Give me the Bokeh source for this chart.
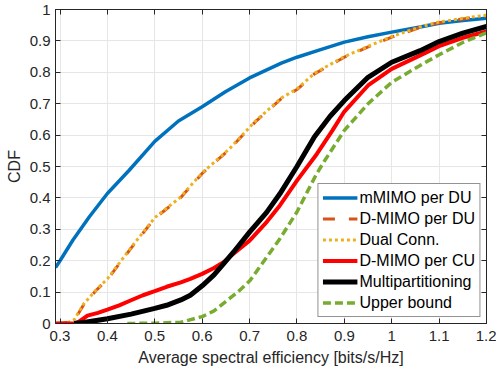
from bokeh.plotting import figure
from bokeh.embed import file_html
from bokeh.resources import INLINE
from bokeh.models import LinearAxis, FixedTicker, NumeralTickFormatter, Range1d, Legend, LegendItem

# ---------------- data ----------------
x_tick_vals = [0.3, 0.4, 0.5, 0.6, 0.7, 0.8, 0.9, 1.0, 1.1, 1.2]
y_tick_vals = [0, 0.1, 0.2, 0.3, 0.4, 0.5, 0.6, 0.7, 0.8, 0.9, 1.0]

mmimo_x = [0.2905, 0.3, 0.327, 0.362, 0.4, 0.446, 0.5, 0.55, 0.6, 0.649, 0.7, 0.767, 0.8, 0.85, 0.9, 0.95, 1.0, 1.06, 1.1, 1.15, 1.2]
mmimo_y = [0.178, 0.2, 0.265, 0.34, 0.414, 0.488, 0.58, 0.645, 0.69, 0.738, 0.782, 0.829, 0.848, 0.872, 0.896, 0.913, 0.928, 0.944, 0.956, 0.965, 0.972]

dmimo_du_x = [0.2905, 0.32, 0.33, 0.35, 0.376, 0.4, 0.45, 0.5, 0.554, 0.6, 0.656, 0.712, 0.767, 0.8, 0.837, 0.9, 0.949, 1.0, 1.059, 1.1, 1.15, 1.2]
dmimo_du_y = [0.0, 0.004, 0.01, 0.06, 0.105, 0.14, 0.24, 0.335, 0.4, 0.478, 0.552, 0.642, 0.716, 0.745, 0.795, 0.848, 0.88, 0.912, 0.942, 0.958, 0.97, 0.98]

dual_x = [0.2905, 0.32, 0.33, 0.35, 0.376, 0.4, 0.45, 0.5, 0.554, 0.6, 0.656, 0.712, 0.767, 0.8, 0.837, 0.9, 0.949, 1.0, 1.059, 1.1, 1.15, 1.2]
dual_y = [0.0, 0.005, 0.012, 0.062, 0.107, 0.142, 0.242, 0.337, 0.402, 0.48, 0.554, 0.644, 0.718, 0.747, 0.797, 0.85, 0.882, 0.914, 0.944, 0.96, 0.972, 0.982]

dmimo_cu_x = [0.2905, 0.33, 0.34, 0.358, 0.38, 0.4, 0.425, 0.45, 0.475, 0.5, 0.525, 0.555, 0.575, 0.6, 0.625, 0.645, 0.666, 0.7, 0.736, 0.764, 0.8, 0.842, 0.875, 0.9, 0.95, 1.0, 1.06, 1.1, 1.15, 1.2]
dmimo_cu_y = [0.0, 0.0, 0.006, 0.025, 0.034, 0.044, 0.058, 0.074, 0.09, 0.103, 0.117, 0.131, 0.142, 0.158, 0.177, 0.195, 0.222, 0.264, 0.323, 0.376, 0.455, 0.54, 0.615, 0.675, 0.758, 0.811, 0.854, 0.883, 0.91, 0.93]

multi_x = [0.33, 0.35, 0.4, 0.45, 0.5, 0.525, 0.555, 0.575, 0.6, 0.625, 0.645, 0.666, 0.7, 0.736, 0.764, 0.8, 0.837, 0.87, 0.9, 0.95, 1.0, 1.06, 1.1, 1.15, 1.2]
multi_y = [0.0, 0.003, 0.015, 0.03, 0.048, 0.058, 0.075, 0.09, 0.12, 0.155, 0.19, 0.227, 0.291, 0.354, 0.413, 0.5, 0.595, 0.66, 0.71, 0.784, 0.832, 0.869, 0.898, 0.925, 0.946]

upper_x = [0.442, 0.5, 0.555, 0.6, 0.625, 0.645, 0.675, 0.701, 0.736, 0.764, 0.8, 0.822, 0.842, 0.857, 0.9, 0.95, 1.0, 1.06, 1.1, 1.15, 1.2]
upper_y = [0.0, 0.001, 0.004, 0.022, 0.04, 0.064, 0.1, 0.137, 0.211, 0.27, 0.355, 0.42, 0.478, 0.515, 0.615, 0.70, 0.768, 0.822, 0.856, 0.895, 0.926]

labels = ["mMIMO per DU", "D-MIMO per DU", "Dual Conn.", "D-MIMO per CU", "Multipartitioning", "Upper bound"]

# ---------------- figure ----------------
FONT = "Liberation Sans"
TXT = "#262626"

p = figure(width=496, height=374, output_backend="svg", toolbar_location=None,
           x_range=Range1d(0.2905, 1.2), y_range=Range1d(0, 1),
           min_border_left=55, min_border_right=10, min_border_top=9, min_border_bottom=51)
p.outline_line_color = TXT
p.outline_line_width = 1
p.background_fill_color = "white"
p.border_fill_color = "white"

for ax in (p.xaxis[0], p.yaxis[0]):
    ax.major_label_text_font = FONT
    ax.major_label_text_font_size = "15px"
    ax.major_label_text_color = TXT
    ax.axis_label_text_font = FONT
    ax.axis_label_text_font_size = "16px"
    ax.axis_label_text_font_style = "normal"
    ax.axis_label_text_color = TXT
    ax.axis_line_color = TXT
    ax.major_tick_line_color = TXT
    ax.major_tick_in = 5
    ax.major_tick_out = 0
    ax.minor_tick_line_color = None
    ax.formatter = NumeralTickFormatter(format="0.[0]")

p.xaxis[0].ticker = FixedTicker(ticks=x_tick_vals)
p.yaxis[0].ticker = FixedTicker(ticks=y_tick_vals)
p.xaxis[0].axis_label = "Average spectral efficiency [bits/s/Hz]"
p.yaxis[0].axis_label = "CDF"
p.xaxis[0].major_label_standoff = 7
p.yaxis[0].major_label_standoff = 5
p.xaxis[0].axis_label_standoff = 5
p.yaxis[0].axis_label_standoff = 4

for loc, tv in (("above", x_tick_vals), ("right", y_tick_vals)):
    ax = LinearAxis(ticker=FixedTicker(ticks=tv), major_label_text_font_size="0px",
                    major_label_text_color=None,
                    major_tick_in=5, major_tick_out=0, minor_tick_line_color=None,
                    axis_line_color=TXT, major_tick_line_color=TXT, major_label_standoff=0)
    p.add_layout(ax, loc)

p.xgrid.ticker = FixedTicker(ticks=x_tick_vals)
p.ygrid.ticker = FixedTicker(ticks=y_tick_vals)
p.grid.grid_line_color = "#e6e6e6"
p.grid.grid_line_width = 1

r1 = p.line(mmimo_x, mmimo_y, line_color="#0072BD", line_width=3.5)
r2 = p.line(dmimo_du_x, dmimo_du_y, line_color="#D95319", line_width=3, line_dash="12 14")
r3 = p.line(dual_x, dual_y, line_color="#EDB120", line_width=3, line_dash="3 3")
r4 = p.line(dmimo_cu_x, dmimo_cu_y, line_color="#FF0000", line_width=4)
r5 = p.line(multi_x, multi_y, line_color="#000000", line_width=5)
r6 = p.line(upper_x, upper_y, line_color="#77AC30", line_width=3.5, line_dash="8 4")

legend = Legend(items=[LegendItem(label=l, renderers=[r]) for l, r in zip(labels, [r1, r2, r3, r4, r5, r6])],
                location="bottom_right")
legend.label_text_font = FONT
legend.label_text_font_size = "16px"
legend.label_text_color = "#000000"
legend.border_line_color = TXT
legend.border_line_width = 1
legend.background_fill_alpha = 1
legend.glyph_width = 35
legend.glyph_height = 19
legend.label_height = 19
legend.label_standoff = 2
legend.spacing = 2
legend.padding = 4
legend.margin = 6
p.add_layout(legend, "center")

open("out.html", "w").write(file_html(p, INLINE))
